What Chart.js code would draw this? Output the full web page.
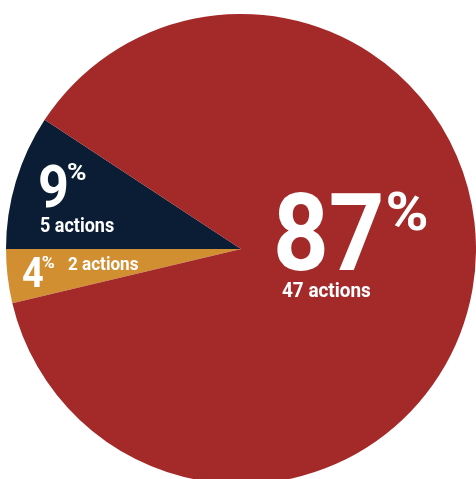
<!DOCTYPE html>
<html>
<head>
<meta charset="utf-8">
<script src="https://cdn.jsdelivr.net/npm/chart.js@4"></script>
<style>
  html, body { margin: 0; padding: 0; background: #fff; overflow: hidden; }
  #wrap { position: absolute; left: 6px; top: 14px; width: 470px; height: 470px; }
</style>
</head>
<body>
<div id="wrap"><canvas id="chart"></canvas></div>
<script>
// data, in drawing order (clockwise from the gold slice)
const categories = ["Gold", "Navy", "Red"];
const actions = [2, 5, 47];
const percents = [4, 9, 87];
const colors = ["#d28f31", "#0a1d35", "#a32a29"];

const FONT = "'Roboto', 'DejaVu Sans', sans-serif";
const SQUEEZE = 0.9; // the original type is a condensed face
const PCT_STRETCH = 1.1; // its % sign is wide though

// where each slice's label sits, relative to the pie centre
const labelLayout = [
    { num: [-219, 38], size: 42, pctSize: 16, pctRise: 19, gap: -2, sub: [-173, 21], subSize: 19 },
    { num: [-203, -42], size: 60, pctSize: 24, pctRise: 27, gap: -2, sub: [-201, -17], subSize: 20 },
    { num: [32, 21], size: 108, pctSize: 53, pctRise: 40, gap: 1, sub: [41, 48], subSize: 21 }
];

function scaledText(ctx, text, x, y, sx) {
    ctx.save();
    ctx.translate(x, y);
    ctx.scale(sx, 1);
    ctx.fillText(text, 0, 0);
    ctx.restore();
    return ctx.measureText(text).width * sx;
}

const sliceLabels = {
    id: "sliceLabels",
    afterDatasetsDraw(chart) {
        const ctx = chart.ctx;
        const arc = chart.getDatasetMeta(0).data[0];
        const cx = arc.x, cy = arc.y;
        ctx.save();
        ctx.fillStyle = "#ffffff";
        ctx.textAlign = "left";
        ctx.textBaseline = "alphabetic";
        labelLayout.forEach(function(l, i) {
            const x = cx + l.num[0];
            const y = cy + l.num[1];
            ctx.font = "bold " + l.size + "px " + FONT;
            const w = scaledText(ctx, String(percents[i]), x, y, SQUEEZE);
            ctx.font = "bold " + l.pctSize + "px " + FONT;
            scaledText(ctx, "%", x + w + l.gap, y - l.pctRise, PCT_STRETCH);
            ctx.font = "bold " + l.subSize + "px " + FONT;
            scaledText(ctx, actions[i] + " actions", cx + l.sub[0], cy + l.sub[1], SQUEEZE);
        });
        ctx.restore();
    }
};

const total = actions.reduce(function(a, b) { return a + b; }, 0);

new Chart(document.getElementById("chart"), {
    type: "pie",
    data: {
        labels: categories,
        datasets: [{
            data: actions,
            backgroundColor: colors,
            borderWidth: 0
        }]
    },
    options: {
        responsive: true,
        maintainAspectRatio: false,
        animation: false,
        // gold slice ends exactly at 9 o'clock
        rotation: 270 - actions[0] / total * 360,
        layout: { padding: 0 },
        plugins: {
            legend: { display: false },
            tooltip: { enabled: false }
        }
    },
    plugins: [sliceLabels]
});
</script>
</body>
</html>
